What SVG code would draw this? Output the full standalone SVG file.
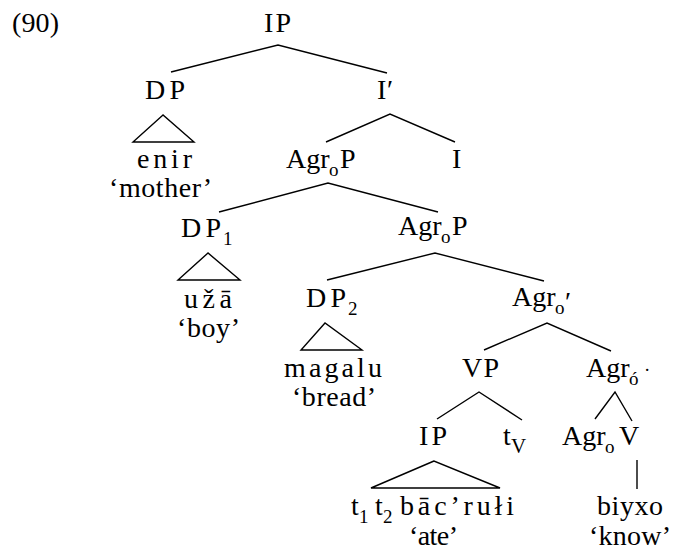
<svg xmlns="http://www.w3.org/2000/svg" width="677" height="554" viewBox="0 0 677 554">
<style>
text{font-family:"Liberation Serif","Times New Roman",serif;font-size:28px;fill:#000}
.s{font-size:19px}
.l line,.l polyline,.l polygon{stroke:#000;stroke-width:1.4;fill:none;stroke-linejoin:miter}
</style>
<rect width="677" height="554" fill="#fff"/>
<text x="12" y="32" textLength="47" lengthAdjust="spacing">(90)</text>
<g class="l" id="connectors">
<polyline points="171,72 278,45 387,73"/>
<polyline points="326,142 390,114 455,142"/>
<polyline points="219,212 328,183 438,212"/>
<polyline points="327,280 435,253 544,281"/>
<polyline points="484,350 547,323 611,351"/>
<polyline points="437,419 479,392 522,420"/>
<polyline points="595,419 615,392 632,421"/>
<line x1="637" y1="460" x2="637" y2="489"/>
<polygon points="163,115 133,142 194,142"/>
<polygon points="208,253 178,280 240,280"/>
<polygon points="325,323 301,350 362,350"/>
<polygon points="434,461 371,488 500,488"/>
</g>
<g id="n-ip"><text x="264" y="32" textLength="27" lengthAdjust="spacing">IP</text></g>
<g id="n-dp"><text x="145" y="99" textLength="40" lengthAdjust="spacing">DP</text></g>
<g id="n-dp-term"><text x="137" y="168" textLength="55" lengthAdjust="spacing">enir</text><text x="109" y="197" textLength="103" lengthAdjust="spacing">‘mother’</text></g>
<g id="n-ibar"><text x="377" y="99">I</text><text x="387" y="99">′</text></g>
<g id="n-agrop1"><text y="168"><tspan x="286">Agr</tspan><tspan class="s" x="329" dy="8">o</tspan><tspan x="340" dy="-8">P</tspan></text></g>
<g id="n-i"><text x="452" y="168">I</text></g>
<g id="n-dp1"><text y="237"><tspan x="181" textLength="40" lengthAdjust="spacing">DP</tspan><tspan class="s" x="223" dy="8">1</tspan></text></g>
<g id="n-dp1-term"><text x="184" y="308" textLength="48" lengthAdjust="spacing">užā</text><text x="177" y="337" textLength="63" lengthAdjust="spacing">‘boy’</text></g>
<g id="n-agrop2"><text y="235"><tspan x="398">Agr</tspan><tspan class="s" x="441" dy="8">o</tspan><tspan x="452" dy="-8">P</tspan></text></g>
<g id="n-dp2"><text y="307"><tspan x="306" textLength="40" lengthAdjust="spacing">DP</tspan><tspan class="s" x="348" dy="8">2</tspan></text></g>
<g id="n-dp2-term"><text x="284" y="377" textLength="98" lengthAdjust="spacing">magalu</text><text x="292" y="406" textLength="84" lengthAdjust="spacing">‘bread’</text></g>
<g id="n-agrobar"><text y="306"><tspan x="512">Agr</tspan><tspan class="s" x="555" dy="8">o</tspan></text><text x="565" y="311">′</text></g>
<g id="n-vp"><text x="462" y="377" textLength="37" lengthAdjust="spacing">VP</text></g>
<g id="n-agro0"><text y="377"><tspan x="586">Agr</tspan><tspan class="s" x="629" dy="8">ó</tspan></text><text class="s" x="644" y="376">·</text></g>
<g id="n-ip2"><text x="419" y="445" textLength="28" lengthAdjust="spacing">IP</text></g>
<g id="n-tv"><text y="445"><tspan x="503">t</tspan><tspan x="511" dy="8" style="font-size:21px">V</tspan></text></g>
<g id="n-agro"><text y="445"><tspan x="562">Agr</tspan><tspan class="s" x="605" dy="8">o</tspan></text></g>
<g id="n-v"><text x="619" y="445">V</text></g>
<g id="n-ip2-term"><text y="515"><tspan x="351">t</tspan><tspan class="s" x="359" dy="8">1</tspan><tspan x="375" dy="-8">t</tspan><tspan class="s" x="383" dy="8">2</tspan><tspan x="400" dy="-8" textLength="114" lengthAdjust="spacing">bāc’rułi</tspan></text><text x="409" y="545" textLength="49" lengthAdjust="spacing">‘ate’</text></g>
<g id="n-v-term"><text x="597" y="515" textLength="66" lengthAdjust="spacing">biyxo</text><text x="589" y="545" textLength="82" lengthAdjust="spacing">‘know’</text></g>
</svg>
